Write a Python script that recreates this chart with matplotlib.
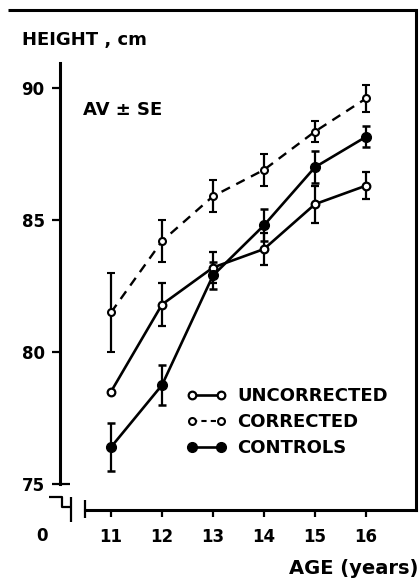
import matplotlib
matplotlib.use("Agg")
import matplotlib.pyplot as plt
from matplotlib.lines import Line2D

# mean height (cm) and standard error per age
years = [11, 12, 13, 14, 15, 16]
uncorrected = [78.5, 81.8, 83.2, 83.9, 85.6, 86.3]
uncorrected_se = [0.0, 0.8, 0.6, 0.6, 0.7, 0.5]
corrected = [81.5, 84.2, 85.9, 86.9, 88.35, 89.6]
corrected_se = [1.5, 0.8, 0.6, 0.6, 0.4, 0.5]
controls = [76.4, 78.75, 82.9, 84.8, 87.0, 88.15]
controls_se = [0.9, 0.75, 0.5, 0.6, 0.6, 0.4]

W, H = 420, 578
plt.rcParams['font.family'] = ['DejaVu Sans']
plt.rcParams['font.weight'] = 'bold'
FS = 13

fig = plt.figure(figsize=(W / 100, H / 100), dpi=100)
ax = fig.add_axes([60 / W, 1 - 510 / H, 356 / W, 500 / H])


def px(x, y):
    # pixel position (from top-left) -> figure fraction
    return x / W, 1 - y / H


def fig_line(xs, ys, lw=2.0):
    fx = [px(x, 0)[0] for x in xs]
    fy = [px(0, y)[1] for y in ys]
    fig.add_artist(Line2D(fx, fy, transform=fig.transFigure, color='black',
                          lw=lw, solid_capstyle='butt'))


lw = 1.9
err_kw = dict(ecolor='black', elinewidth=1.6, capsize=2.8, capthick=1.8)

ax.errorbar(years, corrected, yerr=corrected_se, color='black', lw=1.7,
            ls=(0, (4, 3)), marker='o', ms=5, mfc='white', mec='black', mew=1.5,
            **err_kw)
ax.errorbar(years, uncorrected, yerr=uncorrected_se, color='black', lw=lw,
            marker='o', ms=5.5, mfc='white', mec='black', mew=1.6, **err_kw)
ax.errorbar(years, controls, yerr=controls_se, color='black', lw=lw,
            marker='o', ms=7, mfc='black', mec='black', **err_kw)

ax.set_xlim(10.0, 16.98)
ax.set_ylim(74.02, 92.95)

for s in ['top', 'right', 'left', 'bottom']:
    ax.spines[s].set_linewidth(2.2)
ax.spines['top'].set_visible(False)
ax.spines['left'].set_bounds(75, 90.95)
ax.spines['bottom'].set_bounds(10.49, 16.98)

ax.set_xticks(years)
ax.set_xticklabels([str(y) for y in years], fontsize=FS - 1, fontweight='bold')
ax.set_yticks([75, 80, 85, 90])
ax.set_yticklabels(['75', '80', '85', '90'], fontsize=FS - 1, fontweight='bold')
ax.tick_params(axis='x', direction='out', length=5, width=1.6, pad=8)
ax.tick_params(axis='y', direction='out', length=6, width=1.6, pad=5)

# top frame line and axis break marks
fig_line([8, 416], [10, 10], lw=2.2)
fig_line([60, 70], [484, 484], lw=1.6)
fig_line([49, 62, 62, 71], [497, 497, 507, 507], lw=1.6)
fig_line([71, 71], [497, 522], lw=1.6)
fig_line([85, 85], [500, 518], lw=1.6)

fig.text(*px(22, 40), 'HEIGHT , cm', fontsize=FS, fontweight='bold', va='center')
fig.text(*px(83, 110), 'AV ± SE', fontsize=FS, fontweight='bold', va='center')
fig.text(*px(42, 536), '0', fontsize=FS - 1, fontweight='bold', va='center', ha='center')
fig.text(*px(418, 568), 'AGE (years)', fontsize=FS + 1, fontweight='bold',
         va='center', ha='right')

handles = [
    Line2D([], [], color='black', lw=lw, marker='o', ms=5.5, mfc='white', mew=1.6),
    Line2D([], [], color='black', lw=1.5, ls=(0, (2.5, 2)), marker='o', ms=5,
           mfc='white', mew=1.5),
    Line2D([], [], color='black', lw=lw, marker='o', ms=7, mfc='black'),
]
ax.legend(handles, ['UNCORRECTED', 'CORRECTED', 'CONTROLS'], loc='upper left',
          bbox_to_anchor=((187 - 60) / 356, (510 - 387) / 500), frameon=False,
          prop={'size': FS, 'weight': 'bold'}, numpoints=2, handlelength=2.2,
          handletextpad=0.6, labelspacing=0.45, borderpad=0, borderaxespad=0)

fig.savefig('out.png', dpi=100)
